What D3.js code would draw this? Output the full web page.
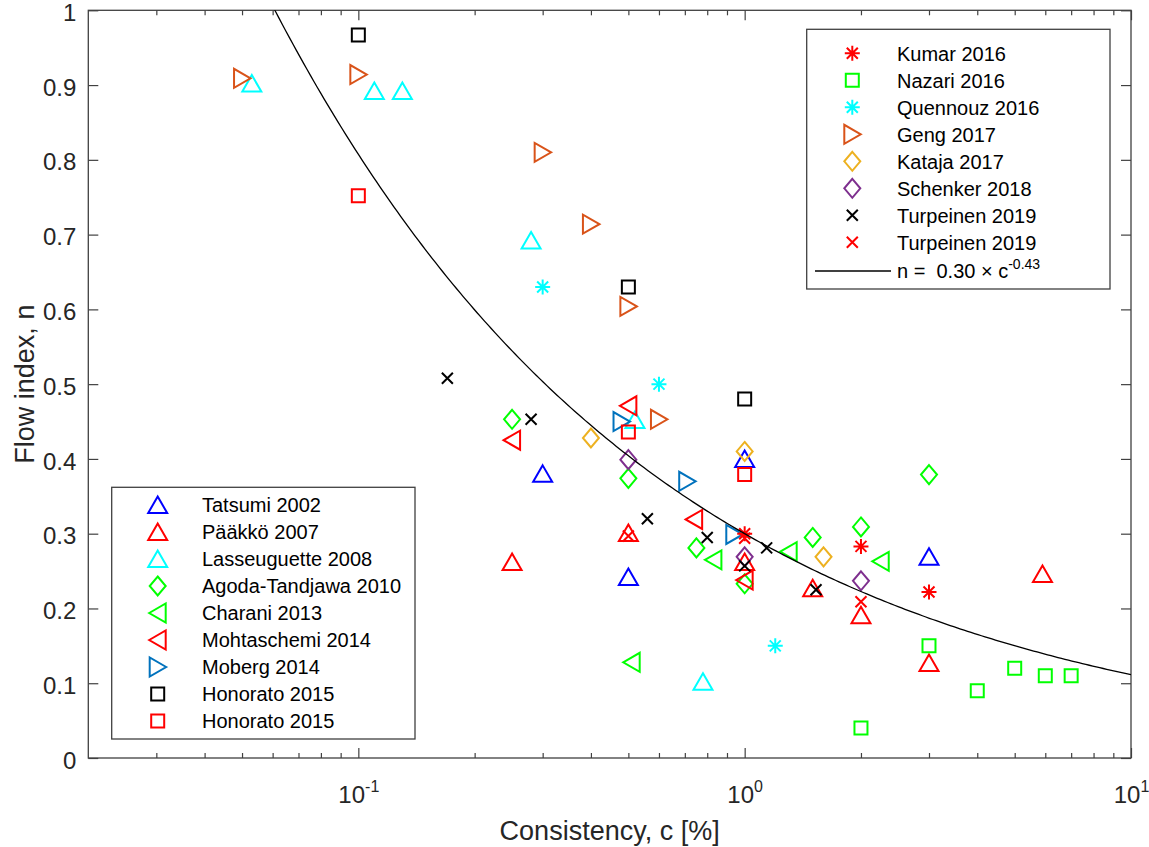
<!DOCTYPE html>
<html>
<head>
<meta charset="utf-8">
<title>Flow index vs consistency</title>
<script src="https://cdn.jsdelivr.net/npm/d3@7"></script>
<style>
  html, body { margin: 0; padding: 0; background: #fff; }
  svg { display: block; font-family: "Liberation Sans", Arial, sans-serif; }
  .tick text { fill: #262626; font-size: 24px; }
  .tick line { stroke: #404040; stroke-width: 1.2; }
  .frame { fill: none; stroke: #404040; stroke-width: 1.3; }
  .legend-box { fill: #fff; stroke: #404040; stroke-width: 1.3; }
  .legend-text { font-size: 20px; fill: #000; white-space: pre; }
  .axis-label { font-size: 27px; fill: #262626; }
  .marker { fill: none; stroke-width: 2; }
  .fit { fill: none; stroke: #000; stroke-width: 1.3; }
</style>
</head>
<body>
<svg class="chart" width="1149" height="847"></svg>
<script>
(function () {
  "use strict";

  // points are [consistency c (%), flow index n]
  const tatsumi2002 = [[0.3, 0.38], [0.5, 0.242], [1, 0.40], [3, 0.269]];
  const paakko2007 = [[0.25, 0.262], [0.5, 0.301], [1, 0.262], [1.5, 0.227], [2, 0.191], [3, 0.127], [5.9, 0.246]];
  const lasseuguette2008 = [[0.053, 0.902], [0.11, 0.892], [0.13, 0.892], [0.28, 0.692], [0.52, 0.452], [0.78, 0.102]];
  const agodaTandjawa2010 = [[0.25, 0.453], [0.5, 0.374], [0.75, 0.281], [1, 0.233], [1.5, 0.295], [2, 0.309], [3, 0.379]];
  const charani2013 = [[0.51, 0.128], [0.83, 0.265], [1.3, 0.276], [2.25, 0.263]];
  const mohtaschemi2014 = [[0.25, 0.425], [0.5, 0.471], [0.74, 0.319], [1, 0.238]];
  const moberg2014 = [[0.48, 0.45], [0.71, 0.37], [0.94, 0.299]];
  const honoratoBlack2015 = [[0.1, 0.967], [0.5, 0.63], [1, 0.48]];
  const honoratoRed2015 = [[0.1, 0.752], [0.5, 0.436], [1, 0.379]];
  const kumar2016 = [[1, 0.30], [2, 0.283], [3, 0.222]];
  const nazari2016 = [[2, 0.04], [3, 0.15], [4, 0.09], [5, 0.12], [6, 0.11], [7, 0.11]];
  const quennouz2016 = [[0.3, 0.63], [0.6, 0.50], [1.2, 0.15]];
  const geng2017 = [[0.05, 0.909], [0.1, 0.914], [0.3, 0.81], [0.4, 0.714], [0.5, 0.604], [0.6, 0.453]];
  const kataja2017 = [[0.4, 0.428], [1, 0.41], [1.6, 0.269]];
  const schenker2018 = [[0.5, 0.399], [1, 0.269], [2, 0.237]];
  const turpeinenBlack2019 = [[0.17, 0.508], [0.28, 0.453], [0.56, 0.32], [0.8, 0.295], [1, 0.257], [1.14, 0.281], [1.53, 0.225]];
  const turpeinenRed2019 = [[0.5, 0.297], [1, 0.294], [2, 0.209]];

  const fitCoefficient = 0.30;
  const fitExponent = -0.43;

  const yTicks = [0, 0.1, 0.2, 0.3, 0.4, 0.5, 0.6, 0.7, 0.8, 0.9, 1];
  const xMajorTicks = [0.1, 1, 10];
  const xMinorTicks = [0.03, 0.04, 0.05, 0.06, 0.07, 0.08, 0.09, 0.2, 0.3, 0.4, 0.5, 0.6, 0.7, 0.8, 0.9, 2, 3, 4, 5, 6, 7, 8, 9];

  const series = [
    { name: "Tatsumi 2002", data: tatsumi2002, marker: "up", color: "#0000ff", legend: 0 },
    { name: "Pääkkö 2007", data: paakko2007, marker: "up", color: "#ff0000", legend: 0 },
    { name: "Lasseuguette 2008", data: lasseuguette2008, marker: "up", color: "#00ffff", legend: 0 },
    { name: "Agoda-Tandjawa 2010", data: agodaTandjawa2010, marker: "diamond", color: "#00ff00", legend: 0 },
    { name: "Charani 2013", data: charani2013, marker: "left", color: "#00ff00", legend: 0 },
    { name: "Mohtaschemi 2014", data: mohtaschemi2014, marker: "left", color: "#ff0000", legend: 0 },
    { name: "Moberg 2014", data: moberg2014, marker: "right", color: "#0072bd", legend: 0 },
    { name: "Honorato 2015", data: honoratoBlack2015, marker: "square", color: "#000000", legend: 0 },
    { name: "Honorato 2015", data: honoratoRed2015, marker: "square", color: "#ff0000", legend: 0 },
    { name: "Kumar 2016", data: kumar2016, marker: "asterisk", color: "#ff0000", legend: 1 },
    { name: "Nazari 2016", data: nazari2016, marker: "square", color: "#00ff00", legend: 1 },
    { name: "Quennouz 2016", data: quennouz2016, marker: "asterisk", color: "#00ffff", legend: 1 },
    { name: "Geng 2017", data: geng2017, marker: "right", color: "#d95319", legend: 1 },
    { name: "Kataja 2017", data: kataja2017, marker: "diamond", color: "#edb120", legend: 1 },
    { name: "Schenker 2018", data: schenker2018, marker: "diamond", color: "#7e2f8e", legend: 1 },
    { name: "Turpeinen 2019", data: turpeinenBlack2019, marker: "cross", color: "#000000", legend: 1 },
    { name: "Turpeinen 2019", data: turpeinenRed2019, marker: "cross", color: "#ff0000", legend: 1 }
  ];

  const markerPaths = {
    up: "M0,-8.5L9.5,8L-9.5,8Z",
    left: "M-8.5,0L8,-9.5L8,9.5Z",
    right: "M8.5,0L-8,-9.5L-8,9.5Z",
    diamond: "M0,-9.5L8,0L0,9.5L-8,0Z",
    square: "M-6.5,-6.5H6.5V6.5H-6.5Z",
    asterisk: "M-7.5,0H7.5M0,-7.5V7.5M-5.5,-5.5L5.5,5.5M-5.5,5.5L5.5,-5.5",
    cross: "M-5.5,-5.5L5.5,5.5M-5.5,5.5L5.5,-5.5"
  };

  const svg = d3.select(".chart");
  const left = 88.3, right = 1131, top = 10.3, bottom = 758;

  const x = d3.scaleLog().domain([0.02, 10]).range([left, right]);
  const y = d3.scaleLinear().domain([0, 1]).range([bottom, top]);

  function noDomain(g) {
    g.select(".domain").remove();
  }

  // y axes (left labelled, right ticks only)
  svg.append("g")
    .attr("transform", `translate(${left},0)`)
    .call(d3.axisLeft(y).tickValues(yTicks).tickSize(-10).tickPadding(12).tickFormat(d3.format("~g")))
    .call(noDomain)
    .selectAll("text").attr("dy", "0.42em");

  svg.append("g")
    .attr("transform", `translate(${right},0)`)
    .call(d3.axisRight(y).tickValues(yTicks).tickSize(-10).tickFormat(""))
    .call(noDomain);

  // x axes, bottom and top, major + minor ticks
  [[bottom, d3.axisBottom], [top, d3.axisTop]].forEach(([pos, axis]) => {
    svg.append("g")
      .attr("transform", `translate(0,${pos})`)
      .call(axis(x).tickValues(xMinorTicks).tickSize(-5).tickFormat(""))
      .call(noDomain);
  });

  svg.append("g")
    .attr("transform", `translate(0,${top})`)
    .call(d3.axisTop(x).tickValues(xMajorTicks).tickSize(-10).tickFormat(""))
    .call(noDomain);

  const bottomAxis = svg.append("g")
    .attr("transform", `translate(0,${bottom})`)
    .call(d3.axisBottom(x).tickValues(xMajorTicks).tickSize(-10).tickFormat(""))
    .call(noDomain);

  bottomAxis.selectAll(".tick text")
    .attr("y", 45)
    .attr("dy", null)
    .each(function (d) {
      const t = d3.select(this);
      t.append("tspan").text("10");
      t.append("tspan")
        .attr("dy", -11)
        .style("font-size", "16px")
        .text(String(Math.round(Math.log10(d))));
    });

  svg.append("rect")
    .attr("class", "frame")
    .attr("x", left)
    .attr("y", top)
    .attr("width", right - left)
    .attr("height", bottom - top);

  svg.append("text")
    .attr("class", "axis-label")
    .attr("x", (left + right) / 2)
    .attr("y", 840)
    .attr("text-anchor", "middle")
    .text("Consistency, c [%]");

  svg.append("text")
    .attr("class", "axis-label")
    .attr("transform", `translate(34,${(top + bottom) / 2}) rotate(-90)`)
    .attr("text-anchor", "middle")
    .text("Flow index, n");

  // fitted power law
  svg.append("clipPath").attr("id", "plot-clip")
    .append("rect")
    .attr("x", left).attr("y", top)
    .attr("width", right - left).attr("height", bottom - top);

  const fitC = d3.range(0, 301).map(i => Math.pow(10, -1.7 + i * 2.7 / 300));
  const fitLine = d3.line()
    .x(c => x(c))
    .y(c => y(fitCoefficient * Math.pow(c, fitExponent)));

  // markers
  series.forEach(s => {
    svg.append("g")
      .selectAll("path")
      .data(s.data)
      .join("path")
      .attr("class", "marker")
      .attr("d", markerPaths[s.marker])
      .attr("stroke", s.color)
      .attr("transform", d => `translate(${x(d[0])},${y(d[1])})`);
  });

  svg.append("path")
    .attr("class", "fit")
    .attr("clip-path", "url(#plot-clip)")
    .attr("d", fitLine(fitC));

  // legends
  function drawLegend(items, box, firstRow, step, markerX, textX) {
    const g = svg.append("g");
    g.append("rect")
      .attr("class", "legend-box")
      .attr("x", box[0]).attr("y", box[1])
      .attr("width", box[2] - box[0]).attr("height", box[3] - box[1]);
    items.forEach((s, i) => {
      const ry = firstRow + i * step;
      g.append("path")
        .attr("class", "marker")
        .attr("d", markerPaths[s.marker])
        .attr("stroke", s.color)
        .attr("transform", `translate(${markerX},${ry})`);
      g.append("text")
        .attr("class", "legend-text")
        .attr("x", textX)
        .attr("y", ry)
        .attr("dy", "0.36em")
        .text(s.name);
    });
    return g;
  }

  drawLegend(series.filter(s => s.legend === 0), [111.7, 487.3, 415, 739], 505, 27, 157.7, 202);
  const rightLegend = drawLegend(series.filter(s => s.legend === 1), [806.7, 29.3, 1110, 289], 53.3, 27, 852.3, 897);

  const fitRow = 271;
  rightLegend.append("line")
    .attr("x1", 815).attr("x2", 891)
    .attr("y1", fitRow).attr("y2", fitRow)
    .attr("stroke", "#000").attr("stroke-width", 1.3);
  const fitText = rightLegend.append("text")
    .attr("class", "legend-text")
    .attr("x", 897)
    .attr("y", fitRow)
    .attr("dy", "0.36em");
  fitText.append("tspan").text(`n =  ${fitCoefficient.toFixed(2)} \u00d7 c`);
  fitText.append("tspan")
    .attr("dy", -9)
    .style("font-size", "14px")
    .text(String(fitExponent));
})();
</script>
</body>
</html>
